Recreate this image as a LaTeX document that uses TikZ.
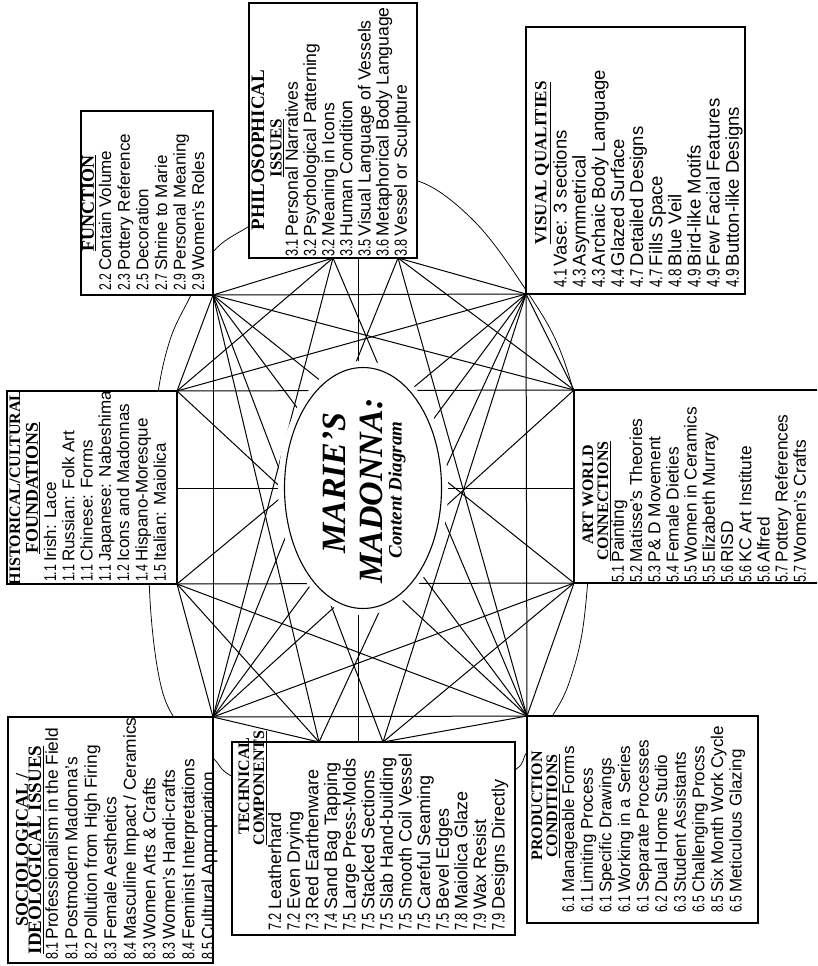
\documentclass[tikz,border=0pt]{standalone}
\usepackage{fontspec}
\usepackage{array}
\setmainfont{Liberation Serif}
\newfontfamily\itemfont{Liberation Sans}
\newfontfamily\numfont[FakeStretch=0.72]{Liberation Sans}
\newcommand{\itab}[3]{{\fontsize{#1}{#2}\selectfont\itemfont
  \begin{tabular}{@{}>{\numfont}l@{\hspace{3pt}}l@{}}#3\end{tabular}}}
\newcommand{\tf}[1]{\fontsize{#1}{#1}\selectfont\bfseries}
\begin{document}
\begin{tikzpicture}[x=1pt,y=-1pt,
  lk/.style={line width=1pt},
  ring/.style={line width=0.75pt},
  bx/.style={draw,line width=1.4pt,fill=white},
  ttl/.style={rotate=90,inner sep=0pt,font=\tf{17}},
  itm/.style={rotate=90,inner sep=0pt,anchor=north west}]
\useasboundingbox (0,0) rectangle (817,966);
\clip (0,0) rectangle (817,966);
% hubs
\coordinate (F) at (213,295);
\coordinate (P1) at (333,258);
\coordinate (P2) at (398,258);
\coordinate (V) at (526,294);
\coordinate (A1) at (574,390);
\coordinate (A2) at (574,583);
\coordinate (R) at (527,716);
\coordinate (T2) at (383,742);
\coordinate (T1) at (319,742);
\coordinate (S) at (213,717);
\coordinate (H2) at (177,584);
\coordinate (H1) at (177,391);
\coordinate (C) at (363,488);
\coordinate (pc) at (358,258);
\coordinate (tc) at (358,742);
\coordinate (hc) at (177,488);
\coordinate (ac) at (574,488);
% outer ring
\draw[ring] plot[smooth cycle,tension=0.6] coordinates {
 (213,252) (248,227) (300,200) (360,184) (418,181) (475,222) (526,290)
 (560,350) (582,430) (590,520) (584,620) (570,680) (553,715) (527,752)
 (515,770) (460,800) (380,815) (300,805) (233,777) (213,758) (185,732)
 (162,690) (150,600) (150,490) (157,400) (170,340) (190,297)};
% frame
\foreach \a/\b in {F/V,V/R,R/S,S/F,H1/A1,H2/A2,pc/tc,hc/ac}
  \draw[lk] (\a) -- (\b);
% star
\foreach \a/\b in {F/P1,V/P2,V/A1,R/A2,R/T2,S/T1,S/H2,F/H1,
  F/R,V/S,
  F/A1,F/T1,V/T2,V/H1,R/H2,R/P2,S/P1,S/A2,
  F/A2,F/T2,V/T1,V/H2,R/H1,R/P1,S/P2,S/A1,
  P1/H1,P2/A1,A2/T2,T1/H2}
  \draw[lk] (\a) -- (\b);
% boxes
\draw[bx] (81,111) rectangle (213,295);
\draw[bx] (249,3) rectangle (417,258);
\draw[bx] (526,27) rectangle (745,294);
\draw[bx] (7,391) rectangle (177,584);
\draw[bx] (574,390) rectangle (830,583);
\draw[bx] (8,717) rectangle (213,963);
\draw[bx] (232,742) rectangle (515,935);
\draw[bx] (527,716) rectangle (758,923);
% centre
\fill[white] (C) ellipse [x radius=85, y radius=127];
\draw[line width=1.1pt] (C) ellipse [x radius=78.5, y radius=120.5];
\node[rotate=90,font=\fontsize{34}{34}\selectfont\bfseries\itshape] (t1) at (334,483) {MARIE’S};
\node[rotate=90,font=\fontsize{34}{34}\selectfont\bfseries\itshape] (t2) at (371,491) {MADONNA:};
\node[rotate=90,font=\fontsize{19}{19}\selectfont\bfseries\itshape] (t3) at (397,490) {Content Diagram};
% titles
\node[ttl,font=\tf{18}] (soc1) at (22,850) {SOCIOLOGICAL /};
\node[ttl,font=\tf{19}] (soc2) at (36,850) {\underline{IDEOLOGICAL ISSUES}};
\node[ttl,font=\tf{16}] (his1) at (15,488) {HISTORICAL/CULTURAL};
\node[ttl,font=\tf{18}] (his2) at (33,488) {\underline{FOUNDATIONS}};
\node[ttl,font=\tf{18}] (fun1) at (89,203) {\underline{FUNCTION}};
\node[ttl,font=\tf{19}] (phi1) at (258,150) {PHILOSOPHICAL};
\node[ttl] (phi2) at (277,148) {\underline{ISSUES}};
\node[ttl,font=\tf{17}] (vis1) at (543,163) {\underline{VISUAL QUALITIES}};
\node[ttl,font=\tf{16}] (art1) at (588,495) {ART WORLD};
\node[ttl,font=\tf{16}] (art2) at (604,501) {\underline{CONNECTIONS}};
\node[ttl,font=\tf{16}] (tec1) at (244,786) {TECHNICAL};
\node[ttl,font=\tf{16}] (tec2) at (260,788) {\underline{COMPONENTS}};
\node[ttl,font=\tf{16}] (pro1) at (537,806) {PRODUCTION};
\node[ttl,font=\tf{16}] (pro2) at (553,806) {\underline{CONDITIONS}};
% items
\node[itm] (soci) at (44,960) {\itab{17.3}{19.5}{
8.1 & Professionalism in the Field\\
8.1 & Postmodern Madonna’s\\
8.2 & Pollution from High Firing\\
8.3 & Female Aesthetics\\
8.4 & Masculine Impact / Ceramics\\
8.3 & Women Arts \& Crafts\\
8.3 & Women’s Handi-crafts\\
8.4 & Feminist Interpretations\\
8.5 & Cultural Appropriation}};
\node[itm] (teci) at (268,931) {\itab{18}{18.6}{
7.2 & Leatherhard\\
7.2 & Even Drying\\
7.3 & Red Earthenware\\
7.4 & Sand Bag Tapping\\
7.5 & Large Press-Molds\\
7.5 & Stacked Sections\\
7.5 & Slab Hand-building\\
7.5 & Smooth Coil Vessel\\
7.5 & Careful Seaming\\
7.5 & Bevel Edges\\
7.8 & Maiolica Glaze\\
7.9 & Wax Resist\\
7.9 & Designs Directly}};
\node[itm] (proi) at (561,913) {\itab{17}{18.6}{
6.1 & Manageable Forms\\
6.1 & Limiting Process\\
6.1 & Specific Drawings\\
6.1 & Working in a Series\\
6.1 & Separate Processes\\
6.2 & Dual Home Studio\\
6.3 & Student Assistants\\
6.5 & Challenging Procss\\
8.5 & Six Month Work Cycle\\
6.5 & Meticulous Glazing}};
\node[itm] (arti) at (611,583) {\itab{17.3}{18.2}{
5.1 & Painting\\
5.2 & Matisse’s Theories\\
5.3 & P\& D Movement\\
5.4 & Female Dieties\\
5.5 & Women in Ceramics\\
5.5 & Elizabeth Murray\\
5.6 & RISD\\
5.6 & KC Art Institute\\
5.6 & Alfred\\
5.7 & Pottery References\\
5.7 & Women’s Crafts}};
\node[itm] (visi) at (553,288) {\itab{18.5}{19.1}{
4.1 & Vase: 3 sections\\
4.3 & Asymmetrical\\
4.3 & Archaic Body Language\\
4.4 & Glazed Surface\\
4.7 & Detailed Designs\\
4.7 & Fills Space\\
4.8 & Blue Veil\\
4.9 & Bird-like Motifs\\
4.9 & Few Facial Features\\
4.9 & Button-like Designs}};
\node[itm] (phii) at (285,257) {\itab{17.6}{18}{
3.1 & Personal Narratives\\
3.2 & Psychological Patterning\\
3.2 & Meaning in Icons\\
3.3 & Human Condition\\
3.5 & Visual Language of Vessels\\
3.6 & Metaphorical Body Language\\
3.8 & Vessel or Sculpture}};
\node[itm] (funi) at (98,291) {\itab{17}{18.6}{
2.2 & Contain Volume\\
2.3 & Pottery Reference\\
2.5 & Decoration\\
2.7 & Shrine to Marie\\
2.9 & Personal Meaning\\
2.9 & Women’s Roles}};
\node[itm] (hisi) at (43,582) {\itab{17}{18.3}{
1.1 & Irish: Lace\\
1.1 & Russian: Folk Art\\
1.1 & Chinese: Forms\\
1.1 & Japanese: Nabeshima\\
1.2 & Icons and Madonnas\\
1.4 & Hispano-Moresque\\
1.5 & Italian: Maiolica}};
\end{tikzpicture}
\end{document}
